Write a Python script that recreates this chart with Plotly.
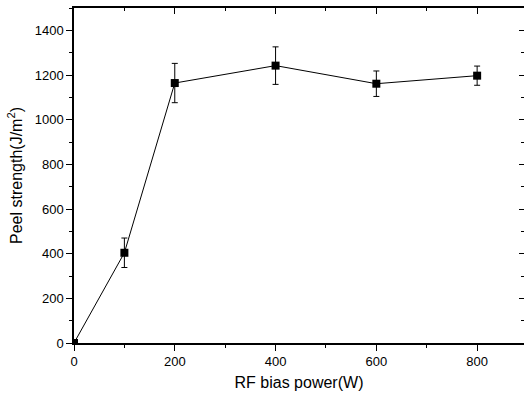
import plotly.graph_objects as go

power = [0, 100, 200, 400, 600, 800]
peel = [0, 404, 1164, 1242, 1161, 1197]
err = [0, 66, 88, 84, 57, 43]

x_ticks = [0, 200, 400, 600, 800]
y_ticks = [0, 200, 400, 600, 800, 1000, 1200, 1400]

FONT = "Liberation Sans, Arial, sans-serif"

fig = go.Figure()
fig.add_trace(go.Scatter(
    x=power, y=peel, mode="lines+markers",
    line=dict(color="black", width=1),
    marker=dict(symbol="square", size=8, color="black"),
    error_y=dict(type="data", array=err, visible=True, color="black", thickness=1, width=3),
    showlegend=False,
))
# invisible trace for secondary axes
fig.add_trace(go.Scatter(x=[0], y=[0], xaxis="x2", yaxis="y2", mode="markers",
                         marker=dict(opacity=0), showlegend=False, hoverinfo="skip"))

axis_common = dict(showgrid=False, zeroline=False, color="black")
fig.update_layout(
    width=524, height=397,
    margin=dict(l=74, r=0, t=8, b=54),
    paper_bgcolor="white", plot_bgcolor="white",
    font=dict(family=FONT, size=13, color="black"),
    xaxis=dict(range=[0, 893], tickvals=x_ticks, ticks="outside", ticklen=6, tickwidth=1,
               showline=True, linecolor="black", linewidth=1.5, mirror=True,
               minor=dict(dtick=100, tick0=0, ticks="outside", ticklen=3, tickcolor="black"),
               title=dict(text="RF bias power(W)", font=dict(size=16), standoff=8),
               tickfont=dict(size=13), **axis_common),
    yaxis=dict(range=[0, 1500], tickvals=y_ticks, ticks="outside", ticklen=6, tickwidth=1,
               showline=True, linecolor="black", linewidth=1.5,
               minor=dict(dtick=100, tick0=0, ticks="outside", ticklen=3, tickcolor="black"),
               title=dict(text="Peel strength(J/m<sup>2</sup>)", font=dict(size=16), standoff=8),
               tickfont=dict(size=13), **axis_common),
    xaxis2=dict(range=[0, 893], overlaying="x", side="top", tickvals=x_ticks, ticks="inside",
                ticklen=6, showticklabels=False, showline=False,
                minor=dict(dtick=100, tick0=0, ticks="inside", ticklen=3, tickcolor="black"),
                **axis_common),
    yaxis2=dict(range=[0, 1500], overlaying="y", side="right", tickvals=y_ticks, ticks="inside",
                ticklen=5, showticklabels=False, showline=False,
                minor=dict(dtick=100, tick0=0, ticks="inside", ticklen=3, tickcolor="black"),
                **axis_common),
)

fig.write_html("out.html")
